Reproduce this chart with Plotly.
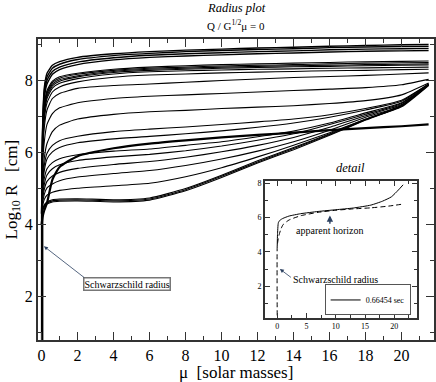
#!/usr/bin/env python3

import plotly.graph_objects as go

# main panel: mass grid (solar masses) shared by all curves
MU = [0, 0.05, 0.15, 0.3, 0.6, 1, 2, 4, 6, 8, 10, 12, 14, 16, 18, 20, 21.5]

# log10 R [cm], top to bottom
TOP_1 = [4.3, 6.6, 7.8, 8.2, 8.42, 8.52, 8.64, 8.74, 8.8, 8.84, 8.87, 8.9, 8.92, 8.95, 8.97, 8.99, 9.0]
TOP_2 = [4.3, 6.5, 7.7, 8.1, 8.34, 8.45, 8.58, 8.69, 8.75, 8.8, 8.83, 8.86, 8.88, 8.91, 8.93, 8.94, 8.95]
TOP_3 = [4.3, 6.4, 7.6, 8.0, 8.25, 8.37, 8.51, 8.63, 8.7, 8.74, 8.77, 8.8, 8.82, 8.85, 8.87, 8.88, 8.89]
TOP_4 = [4.3, 6.3, 7.5, 7.9, 8.17, 8.3, 8.44, 8.57, 8.64, 8.68, 8.71, 8.74, 8.76, 8.79, 8.81, 8.82, 8.83]
MID_1 = [4.3, 6.2, 7.3, 7.72, 7.98, 8.1, 8.2, 8.31, 8.37, 8.41, 8.44, 8.46, 8.48, 8.5, 8.52, 8.53, 8.54]
MID_2 = [4.3, 6.15, 7.25, 7.67, 7.94, 8.06, 8.17, 8.28, 8.34, 8.37, 8.4, 8.42, 8.44, 8.46, 8.48, 8.49, 8.5]
MID_3 = [4.3, 6.1, 7.2, 7.62, 7.9, 8.02, 8.13, 8.25, 8.31, 8.34, 8.37, 8.39, 8.41, 8.42, 8.44, 8.45, 8.46]
MID_4 = [4.3, 6.05, 7.12, 7.56, 7.85, 7.98, 8.1, 8.22, 8.28, 8.31, 8.34, 8.36, 8.38, 8.39, 8.41, 8.42, 8.43]
MID_5 = [4.3, 6.0, 7.05, 7.5, 7.79, 7.92, 8.05, 8.18, 8.24, 8.27, 8.29, 8.31, 8.32, 8.34, 8.35, 8.36, 8.37]
MID_6 = [4.3, 5.9, 6.9, 7.38, 7.68, 7.82, 7.96, 8.09, 8.15, 8.18, 8.21, 8.23, 8.25, 8.27, 8.28, 8.3, 8.31]
MID_7 = [4.3, 5.8, 6.7, 7.18, 7.5, 7.64, 7.78, 7.86, 7.9, 7.95, 8.0, 8.04, 8.08, 8.11, 8.14, 8.18, 8.21]
BEND = [4.3, 5.5, 6.3, 6.78, 7.08, 7.24, 7.38, 7.5, 7.56, 7.6, 7.64, 7.68, 7.72, 7.76, 7.8, 7.88, 8.03]
LOW_1 = [4.3, 5.2, 5.85, 6.25, 6.58, 6.76, 6.93, 7.06, 7.13, 7.17, 7.22, 7.26, 7.3, 7.36, 7.44, 7.6, 7.93]
LOW_2 = [4.3, 5.1, 5.65, 5.98, 6.2, 6.33, 6.45, 6.58, 6.65, 6.71, 6.78, 6.85, 6.93, 7.05, 7.22, 7.45, 7.9]
LOW_3 = [4.3, 5.0, 5.5, 5.82, 6.02, 6.14, 6.27, 6.38, 6.45, 6.52, 6.6, 6.7, 6.82, 6.98, 7.18, 7.42, 7.9]
LOW_4 = [4.3, 4.85, 5.28, 5.55, 5.72, 5.83, 5.94, 6.04, 6.1, 6.2, 6.3, 6.44, 6.6, 6.82, 7.1, 7.38, 7.88]
LOW_5 = [4.3, 4.75, 5.12, 5.38, 5.55, 5.66, 5.78, 5.88, 5.95, 6.05, 6.18, 6.34, 6.52, 6.78, 7.06, 7.36, 7.88]
LOW_6 = [4.3, 4.65, 4.98, 5.2, 5.35, 5.45, 5.56, 5.67, 5.75, 5.87, 6.02, 6.2, 6.42, 6.7, 7.02, 7.33, 7.87]
LOW_7 = [4.3, 4.58, 4.84, 5.02, 5.13, 5.22, 5.32, 5.42, 5.5, 5.64, 5.82, 6.04, 6.3, 6.62, 6.98, 7.3, 7.87]
LOW_8 = [4.3, 4.5, 4.7, 4.82, 4.9, 4.95, 5.01, 5.08, 5.15, 5.33, 5.58, 5.88, 6.2, 6.55, 6.92, 7.27, 7.86]
FLAT_1 = [4.3, 4.42, 4.55, 4.63, 4.69, 4.71, 4.72, 4.69, 4.74, 5.0, 5.37, 5.77, 6.14, 6.52, 6.93, 7.31, 7.9]
FLAT_2 = [4.3, 4.4, 4.52, 4.6, 4.66, 4.68, 4.69, 4.66, 4.71, 4.97, 5.34, 5.74, 6.11, 6.5, 6.91, 7.3, 7.9]
FLAT_3 = [4.3, 4.38, 4.49, 4.57, 4.63, 4.65, 4.66, 4.63, 4.68, 4.94, 5.31, 5.71, 6.08, 6.48, 6.9, 7.29, 7.9]
# thick apparent-horizon curve
HORIZON = [4.0, 4.2, 4.4, 4.6, 5.25, 5.6, 5.9, 6.12, 6.25, 6.34, 6.42, 6.49, 6.55, 6.62, 6.68, 6.73, 6.78]
STEM_MU = [0.03, 0.03]
STEM_R = [0.8, 4.3]

THIN = [MID_1, MID_2, MID_3, MID_4, MID_5, MID_6, MID_7, BEND,
        LOW_1, LOW_2, LOW_3, LOW_4, LOW_5, LOW_6, LOW_7, LOW_8,
        FLAT_1, FLAT_2, FLAT_3]
TOP = [TOP_1, TOP_2, TOP_3, TOP_4]

# inset ("detail")
IN_MU_SOLID = [0, 0.05, 0.2, 0.5, 1, 2, 4, 7, 10, 13, 16, 18, 19.5, 20.7, 21.5]
IN_R_SOLID = [4.3, 5.0, 5.7, 5.85, 5.95, 6.08, 6.22, 6.35, 6.45, 6.55, 6.72, 6.95, 7.2, 7.6, 7.9]
IN_MU_DASH = [0, 0, 0.1, 0.3, 0.6, 1, 2, 4, 7, 10, 13, 16, 19, 21.5]
IN_R_DASH = [0.3, 4.3, 4.6, 4.95, 5.3, 5.58, 5.85, 6.1, 6.3, 6.42, 6.5, 6.56, 6.66, 6.78]

FONT = "Liberation Serif, Times New Roman, DejaVu Serif, serif"


def curve(xs, ys, width, **kw):
    return go.Scatter(x=xs, y=ys, mode="lines", showlegend=False,
                      line=dict(color="black", width=width, shape="spline", smoothing=0.5), **kw)


def main():
    fig = go.Figure()
    for ys in THIN:
        fig.add_trace(curve(MU, ys, 1.1))
    for ys in TOP:
        fig.add_trace(curve(MU, ys, 1.4))
    fig.add_trace(curve(MU, HORIZON, 2.2))
    fig.add_trace(go.Scatter(x=STEM_MU, y=STEM_R, mode="lines", line=dict(color="black", width=2.5), showlegend=False))

    fig.add_trace(go.Scatter(x=IN_MU_SOLID, y=IN_R_SOLID, mode="lines", xaxis="x2", yaxis="y2",
                             line=dict(color="black", width=1, shape="spline", smoothing=0.5), name="0.66454 sec"))
    fig.add_trace(go.Scatter(x=IN_MU_DASH, y=IN_R_DASH, mode="lines", xaxis="x2", yaxis="y2", showlegend=False,
                             line=dict(color="black", width=1, dash="5px,3px", shape="spline", smoothing=0.5)))

    axis_common = dict(ticks="inside", showline=True, linecolor="#333", mirror="allticks", showgrid=False,
                       zeroline=False, tickcolor="#333", automargin=False)
    fig.update_layout(
        width=436, height=382,
        margin=dict(l=38, r=2, t=39, b=42),
        plot_bgcolor="white", paper_bgcolor="white",
        font=dict(family=FONT, color="black"),
        xaxis=dict(range=[-0.2, 21.8], dtick=2, tick0=0, ticklen=8, linewidth=2, tickwidth=1,
                   tickfont=dict(size=16, family=FONT), minor=dict(dtick=1, ticklen=4, ticks="inside", tickcolor="#333"),
                   **axis_common),
        yaxis=dict(range=[0.8, 9.15], dtick=2, tick0=0, ticklen=8, linewidth=2, tickwidth=1,
                   tickfont=dict(size=16, family=FONT), minor=dict(dtick=1, ticklen=4, ticks="inside", tickcolor="#333"),
                   **axis_common),
        xaxis2=dict(domain=[0.573, 0.956], anchor="y2", range=[-2.1, 23.8], dtick=5, tick0=0, ticklen=5,
                    linewidth=1.5, tickfont=dict(size=8, family=FONT),
                    minor=dict(dtick=2.5, ticklen=3, ticks="inside", tickcolor="#333"), **axis_common),
        yaxis2=dict(domain=[0.073, 0.527], anchor="x2", range=[0.15, 8.1], dtick=2, tick0=0, ticklen=5,
                    linewidth=1.5, tickfont=dict(size=8, family=FONT),
                    minor=dict(dtick=1, ticklen=3, ticks="inside", tickcolor="#333"), **axis_common),
        showlegend=True,
        legend=dict(x=0.941, y=0.133, xanchor="right", yanchor="middle", bordercolor="#555", borderwidth=1,
                    bgcolor="white", font=dict(size=8, family=FONT), itemwidth=30, tracegroupgap=0),
    )

    def label(text, size, **kw):
        fig.add_annotation(text=text, showarrow=False, font=dict(size=size, family=FONT), **kw)

    label("<i>Radius plot</i>", 12.5, xref="paper", yref="paper", x=0.5, y=1, yanchor="middle", yshift=31)
    label("Q / G<sup>1/2</sup>\u03bc = 0", 11, xref="paper", yref="paper", x=0.5, y=1, yanchor="middle", yshift=14)
    label("\u03bc  [solar masses]", 17, xref="paper", yref="paper", x=0.5, y=0, yanchor="middle", yshift=-32)
    label("Log<sub>10</sub> R   [cm]", 17, xref="paper", yref="paper", x=0, y=0.5, xanchor="center",
          xshift=-26, textangle=-90)
    label("<i>detail</i>", 12.5, xref="x2", yref="paper", x=12.5, y=0.527, yanchor="middle", yshift=13)
    label("Schwarzschild radius", 10, x=4.75, y=2.36, bordercolor="#777", borderwidth=1.5, borderpad=0,
          bgcolor="white")
    label("apparent horizon", 10, xref="x2", yref="y2", x=9.0, y=5.25)
    label("Schwarzschild radius", 10, xref="x2", yref="y2", x=9.9, y=2.39)

    # arrows
    fig.add_annotation(text="", x=0.13, y=3.4, ax=2.45, ay=2.5, axref="x", ayref="y",
                       showarrow=True, arrowhead=2, arrowsize=1, arrowwidth=0.8)
    fig.add_annotation(text="", x=9.0, y=6.12, ax=9.0, ay=5.55, xref="x2", yref="y2", axref="x2", ayref="y2",
                       showarrow=True, arrowhead=2, arrowsize=0.9, arrowwidth=1.4)
    fig.add_annotation(text="", x=0.46, y=3.0, ax=2.6, ay=2.45, xref="x2", yref="y2", axref="x2", ayref="y2",
                       showarrow=True, arrowhead=2, arrowsize=1, arrowwidth=0.8)

    # the page body has a default 8px margin; drop it so the figure fills the window
    fig.write_html("out.html", config={"displayModeBar": False},
                   post_script="document.body.style.margin='0px';")


if __name__ == "__main__":
    main()
